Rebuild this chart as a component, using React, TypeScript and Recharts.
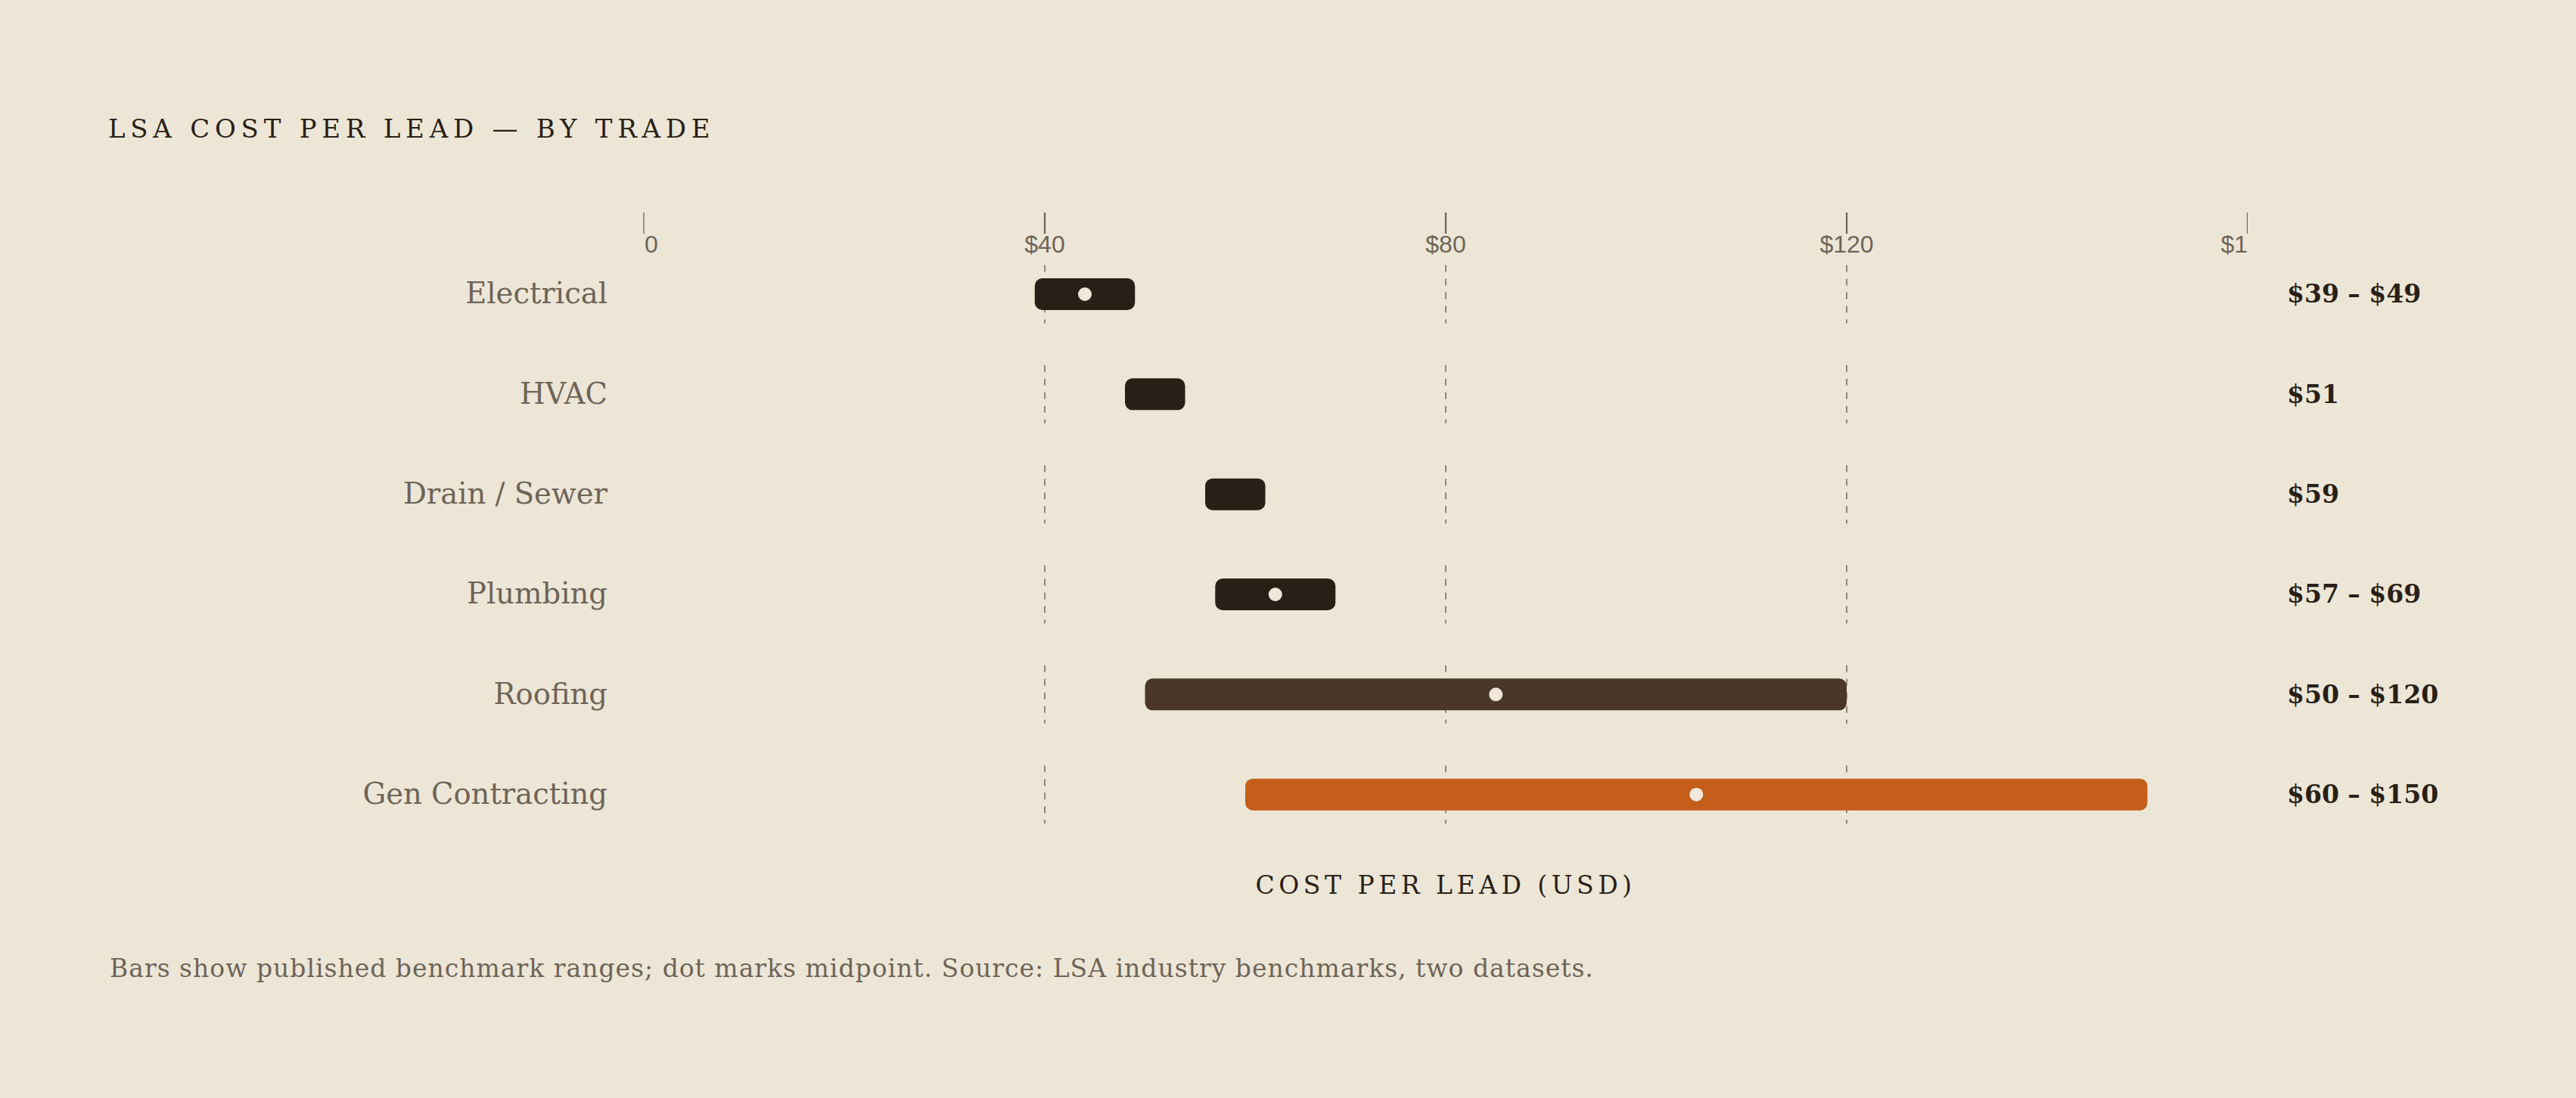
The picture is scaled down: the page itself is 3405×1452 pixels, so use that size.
import React from "react";
import { BarChart, Bar, XAxis, YAxis } from "recharts";

// ---- data ----
const trades = ["Electrical", "HVAC", "Drain / Sewer", "Plumbing", "Roofing", "Gen Contracting"];
const lowValues = [39, 51, 59, 57, 50, 60];
const highValues = [49, 51, 59, 69, 120, 150];
const rangeLabels = ["$39 – $49", "$51", "$59", "$57 – $69", "$50 – $120", "$60 – $150"];
const barColors = ["#2a1f16", "#2a1f16", "#2a1f16", "#2a1f16", "#4a3728", "#c45e1a"];
const xTicks = [0, 40, 80, 120, 160];
const gridValues = [40, 80, 120];
const singlePointHalfSpan = 3; // single published values are drawn as a short pill

const W = 3405;
const H = 1452;
const BG = "#ede6d7";
const INK = "#2a1f16";
const MUTED = "#6e6458";
const SERIF = "'DejaVu Serif', 'Liberation Serif', serif";
const SANS = "'Liberation Sans', Arial, sans-serif";

const data = trades.map((name, i) => {
  const lo = lowValues[i];
  const hi = highValues[i];
  const single = lo === hi;
  return {
    name,
    lo,
    hi,
    single,
    label: rangeLabels[i],
    color: barColors[i],
    span: single ? [lo - singlePointHalfSpan, hi + singlePointHalfSpan] : [lo, hi],
  };
});

const RangeShape = (props: any) => {
  const { x, y, width, height, payload } = props;
  if (width == null || !payload) return null;
  const [dlo, dhi] = payload.span;
  const ppu = width / (dhi - dlo);
  const scaleX = (v: number) => x + (v - dlo) * ppu;
  const cy = y + height / 2;
  return (
    <g>
      {gridValues.map((v) => (
        <line
          key={v}
          x1={scaleX(v)}
          x2={scaleX(v)}
          y1={cy - 38.5}
          y2={cy + 38.5}
          stroke="#7a7064"
          strokeWidth={1.6}
          strokeDasharray="9 9"
        />
      ))}
      <rect x={x} y={y} width={width} height={height} rx={10} ry={10} fill={payload.color} />
      {!payload.single && (
        <circle cx={scaleX((payload.lo + payload.hi) / 2)} cy={cy} r={9} fill="#efe7da" />
      )}
    </g>
  );
};

const TopTick = (props: any) => {
  const { x, y, payload } = props;
  const v = payload.value;
  const first = v === xTicks[0];
  const last = v === xTicks[xTicks.length - 1];
  const label = v === 0 ? "0" : `$${v}`;
  const content = (
    <g>
      <line x1={x} x2={x} y1={y - 42} y2={y - 14} stroke={MUTED} strokeWidth={first ? 1.3 : 2.2} />
      <text
        x={first ? x + 1 : x}
        y={y + 11}
        textAnchor={first ? "start" : "middle"}
        fontFamily={SANS}
        fontSize={32}
        fill={MUTED}
      >
        {label}
      </text>
    </g>
  );
  if (last) {
    return (
      <svg x={0} y={0} width={x} height={y + 60} overflow="hidden">
        {content}
      </svg>
    );
  }
  return content;
};

const LeftTick = (props: any) => {
  const { x, y, payload } = props;
  return (
    <text x={x} y={y + 12} textAnchor="end" fontFamily={SERIF} fontSize={38.5} fill={MUTED}>
      {payload.value}
    </text>
  );
};

const RightTick = (props: any) => {
  const { x, y, payload } = props;
  const idx = trades.indexOf(payload.value);
  return (
    <text x={x} y={y + 11} textAnchor="start" fontFamily={SERIF} fontWeight="bold" fontSize={33} fill={INK}>
      {rangeLabels[idx]}
    </text>
  );
};

export default function App() {
  return (
    <div style={{ position: "relative", width: W, height: H, background: BG, overflow: "hidden" }}>
      <style>{`html,body{margin:0;padding:0;background:${BG};overflow:hidden}`}</style>
      <svg width={W} height={H} style={{ position: "absolute", left: 0, top: 0 }}>
        <text x={143} y={182} fontFamily={SERIF} fontSize={34} letterSpacing={6.75} fill={INK}>
          LSA COST PER LEAD — BY TRADE
        </text>
        <text
          x={1911}
          y={1182}
          textAnchor="middle"
          fontFamily={SERIF}
          fontSize={33}
          letterSpacing={5.5}
          fill={INK}
        >
          COST PER LEAD (USD)
        </text>
        <text x={145} y={1292} fontFamily={SERIF} fontSize={33} letterSpacing={1} fill={MUTED}>
          Bars show published benchmark ranges; dot marks midpoint. Source: LSA industry benchmarks, two datasets.
        </text>
      </svg>
      <div style={{ position: "absolute", left: 0, top: 0 }}>
        <BarChart
          width={W}
          height={H}
          data={data}
          layout="vertical"
          margin={{ top: 240, right: 0, bottom: 335, left: 0 }}
        >
          <XAxis
            type="number"
            orientation="top"
            domain={[0, 160]}
            ticks={xTicks}
            interval={0}
            axisLine={false}
            tickLine={false}
            tickSize={0}
            tickMargin={0}
            height={83}
            tick={<TopTick />}
          />
          <YAxis
            yAxisId="left"
            type="category"
            dataKey="name"
            orientation="left"
            width={851}
            axisLine={false}
            tickLine={false}
            tickSize={0}
            tickMargin={48}
            interval={0}
            tick={<LeftTick />}
          />
          <YAxis
            yAxisId="right"
            type="category"
            dataKey="name"
            orientation="right"
            width={434}
            axisLine={false}
            tickLine={false}
            tickSize={0}
            tickMargin={52}
            interval={0}
            tick={<RightTick />}
          />
          <Bar
            yAxisId="left"
            dataKey="span"
            barSize={42}
            isAnimationActive={false}
            shape={(p: any) => <RangeShape {...p} />}
          />
        </BarChart>
      </div>
    </div>
  );
}
